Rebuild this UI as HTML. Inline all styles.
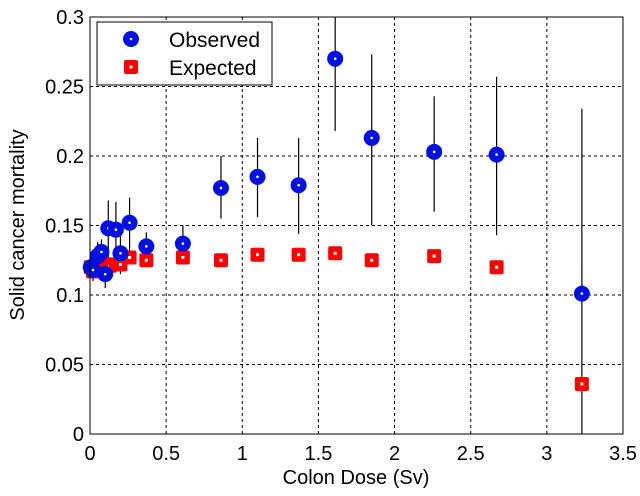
<!DOCTYPE html>
<html><head><meta charset="utf-8"><style>
body{margin:0;background:#fff;}
svg text{font-family:"Liberation Sans",Arial,sans-serif;fill:#000;}
</style></head><body>
<svg id="chart" width="640" height="491">
<g id="grid"></g><g id="bars"></g><g id="marks"></g><g id="axes"></g>
</svg>
<script>
const obsX=[0.005,0.02,0.05,0.075,0.1,0.12,0.17,0.2,0.26,0.37,0.61,0.86,1.1,1.37,1.61,1.85,2.26,2.67,3.23];
const obsY=[0.12,0.118,0.128,0.131,0.115,0.148,0.147,0.13,0.152,0.135,0.137,0.177,0.185,0.179,0.27,0.213,0.203,0.201,0.101];
const obsLo=[0.112,0.11,0.118,0.12,0.105,0.125,0.123,0.115,0.13,0.125,0.124,0.155,0.156,0.144,0.218,0.15,0.16,0.143,0.0];
const obsHi=[0.128,0.126,0.138,0.14,0.127,0.168,0.167,0.145,0.17,0.145,0.15,0.2,0.213,0.213,0.31,0.273,0.243,0.257,0.234];
const expX=[0.005,0.02,0.05,0.08,0.1,0.13,0.17,0.2,0.26,0.37,0.61,0.86,1.1,1.37,1.61,1.85,2.26,2.67,3.23];
const expY=[0.12,0.117,0.119,0.121,0.122,0.121,0.122,0.122,0.127,0.125,0.127,0.125,0.129,0.129,0.13,0.125,0.128,0.12,0.036];
const xTicks=[0,0.5,1,1.5,2,2.5,3,3.5];
const xTickLabels=["0","0.5","1","1.5","2","2.5","3","3.5"];
const yTicks=[0,0.05,0.1,0.15,0.2,0.25,0.3];
const yTickLabels=["0","0.05","0.1","0.15","0.2","0.25","0.3"];
const L=90,R=623,T=17,B=434;
const sx=v=>L+v/3.5*(R-L), sy=v=>B-v/0.3*(B-T);
const NS="http://www.w3.org/2000/svg";
function mk(p,t,a){const e=document.createElementNS(NS,t);for(const k in a)e.setAttribute(k,a[k]);p.appendChild(e);return e;}
const grid=document.getElementById('grid'),bars=document.getElementById('bars'),marks=document.getElementById('marks'),axes=document.getElementById('axes');
xTicks.forEach((t,i)=>{
  if(i>0&&i<xTicks.length-1){const g=mk(grid,'line',{x1:sx(t),x2:sx(t),y1:T,y2:B,stroke:'#000','stroke-width':1,'stroke-dasharray':'3,3'});
  }
  const tx=mk(axes,'text',{x:sx(t),y:460,'font-size':20,'text-anchor':'middle'});tx.textContent=xTickLabels[i];
  
});
yTicks.forEach((t,i)=>{
  if(i>0&&i<yTicks.length-1){const g=mk(grid,'line',{x1:L,x2:R,y1:sy(t),y2:sy(t),stroke:'#000','stroke-width':1,'stroke-dasharray':'3,3'});
  }
  const tx=mk(axes,'text',{x:84,y:sy(t)+7,'font-size':20,'text-anchor':'end'});tx.textContent=yTickLabels[i];
  
});
const fr=mk(axes,'rect',{x:L,y:T,width:R-L,height:B-T,fill:'none',stroke:'#000','stroke-width':1});

obsX.forEach((x,i)=>{
  const e=mk(bars,'line',{x1:sx(x),x2:sx(x),y1:sy(Math.min(obsHi[i],0.3)),y2:sy(obsLo[i]),stroke:'#000','stroke-width':1.2});
  
});
expX.forEach((x,i)=>{
  const r=mk(marks,'rect',{x:sx(x)-7,y:sy(expY[i])-7,width:14,height:14,rx:2,fill:'#f00'});
  
  mk(marks,'rect',{x:sx(x)-1.5,y:sy(expY[i])-1.5,width:3,height:3,fill:'#fff'});
});
obsX.forEach((x,i)=>{
  const c=mk(marks,'circle',{cx:sx(x),cy:sy(obsY[i]),r:8,fill:'#0010e0'});
  
  mk(marks,'circle',{cx:sx(x),cy:sy(obsY[i]),r:1.3,fill:'#fff'});
});
</script>
<svg width="640" height="491" style="position:absolute;left:0;top:0">
<g>
<rect x="97" y="22" width="175" height="63" fill="#fff" stroke="#000" stroke-width="1"/>
<circle cx="131" cy="39" r="8" fill="#0010e0"/><circle cx="131" cy="39" r="1.3" fill="#fff"/>
<text x="169" y="47" font-size="21">Observed</text>
<rect x="124" y="60" width="14" height="14" rx="2" fill="#f00"/><rect x="129.5" y="65.5" width="3" height="3" fill="#fff"/>
<text x="169" y="75" font-size="21">Expected</text>
</g>
<text x="356" y="484" font-size="20" text-anchor="middle">Colon Dose (Sv)</text>
<text transform="translate(24,225) rotate(-90)" font-size="20" text-anchor="middle">Solid cancer mortality</text>
</svg>
</body></html>
